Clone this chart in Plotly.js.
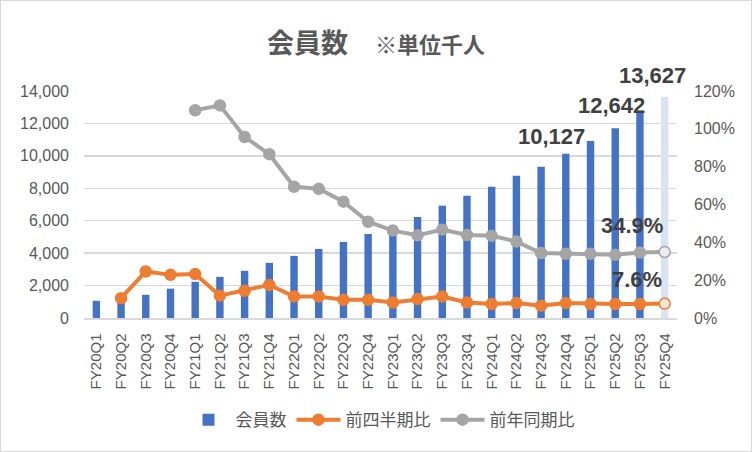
<!DOCTYPE html>
<html>
<head>
<meta charset="utf-8">
<script src="https://cdn.plot.ly/plotly-3.0.1.min.js"></script>
<style>
  html, body { margin: 0; padding: 0; background: #fff; }
  #frame { width: 750px; height: 450px; border: 1px solid #d9d9d9; }
  #chart { width: 750px; height: 450px; }
</style>
</head>
<body>
<div id="frame"><div id="chart"></div></div>
<script>
// ---- data ----
const quarters = ["FY20Q1","FY20Q2","FY20Q3","FY20Q4",
                  "FY21Q1","FY21Q2","FY21Q3","FY21Q4",
                  "FY22Q1","FY22Q2","FY22Q3","FY22Q4",
                  "FY23Q1","FY23Q2","FY23Q3","FY23Q4",
                  "FY24Q1","FY24Q2","FY24Q3","FY24Q4",
                  "FY25Q1","FY25Q2","FY25Q3","FY25Q4"];
const members = [1060, 1250, 1430, 1810,
                 2230, 2540, 2910, 3400,
                 3830, 4260, 4690, 5180,
                 5700, 6230, 6930, 7540,
                 8100, 8770, 9330, 10127,
                 10920, 11700, 12642, 13627];
const qoq = [null, 0.105, 0.246, 0.228,
             0.232, 0.118, 0.144, 0.175,
             0.114, 0.114, 0.096, 0.096,
             0.082, 0.100, 0.114, 0.082,
             0.074, 0.079, 0.065, 0.079,
             0.074, 0.074, 0.074, 0.076];
const yoy = [null, null, null, null,
             1.098, 1.124, 0.957, 0.866,
             0.694, 0.683, 0.615, 0.509,
             0.462, 0.437, 0.467, 0.439,
             0.435, 0.404, 0.343, 0.339,
             0.339, 0.334, 0.346, 0.349];
const seriesNames = ["会員数", "前四半期比", "前年同期比"];
const titleMain = "会員数";
const titleSub = "※単位千人";
const barLabelCats = ["FY24Q4", "FY25Q3", "FY25Q4"];

// ---- styling ----
const last = quarters.length - 1;
const blue = "#4472C4", blueLight = "#DAE3F3";
const orange = "#ED7D31", orangeLight = "#FBE5D6";
const gray = "#A5A5A5", grayLight = "#EDEDED";
const txt = "#595959", lbl = "#404040";

const barColors = quarters.map((q, i) => i === last ? blueLight : blue);
const oFill = quarters.map((q, i) => i === last ? orangeLight : orange);
const gFill = quarters.map((q, i) => i === last ? grayLight : gray);

const traces = [
  { type: "bar", name: seriesNames[0], x: quarters, y: members,
    marker: { color: barColors }, yaxis: "y" },
  { type: "scatter", mode: "lines+markers", name: seriesNames[1], x: quarters, y: qoq,
    yaxis: "y2", line: { color: orange, width: 4 },
    marker: { size: 11, color: oFill, line: { color: orange, width: 1.5 } } },
  { type: "scatter", mode: "lines+markers", name: seriesNames[2], x: quarters, y: yoy,
    yaxis: "y2", line: { color: gray, width: 4 },
    marker: { size: 11, color: gFill, line: { color: gray, width: 1.5 } } }
];

const labelFont = { size: 22, color: lbl, family: "Liberation Sans, Arial, sans-serif" };
const barShift = { "FY24Q4": [-14, 17], "FY25Q3": [-28, 8], "FY25Q4": [-12, 22] };
const annotations = barLabelCats.map(c => {
  const i = quarters.indexOf(c);
  return { x: c, y: members[i], xref: "x", yref: "y", showarrow: false,
           text: "<b>" + members[i].toLocaleString("en-US") + "</b>",
           font: labelFont, xanchor: "center", yanchor: "middle",
           xshift: barShift[c][0], yshift: barShift[c][1] };
});
annotations.push({ x: quarters[last], y: yoy[last], xref: "x", yref: "y2", showarrow: false,
  text: "<b>" + (yoy[last] * 100).toFixed(1) + "%</b>", font: labelFont,
  xanchor: "center", yanchor: "middle", xshift: -33, yshift: 26 });
annotations.push({ x: quarters[last], y: qoq[last], xref: "x", yref: "y2", showarrow: false,
  text: "<b>" + (qoq[last] * 100).toFixed(1) + "%</b>", font: labelFont,
  xanchor: "center", yanchor: "middle", xshift: -28, yshift: 24 });

const layout = {
  width: 750, height: 450,
  margin: { l: 83, r: 74, t: 90, b: 133, autoexpand: false },
  paper_bgcolor: "#fff", plot_bgcolor: "#fff",
  font: { family: "Liberation Sans, Noto Sans CJK JP, sans-serif", color: txt, size: 16 },
  title: { text: "<b>" + titleMain + "　<span style='font-size:22px'>" + titleSub + "</span></b>",
           font: { family: "Noto Sans CJK JP, sans-serif", size: 27, color: txt },
           x: 0.5, xanchor: "center", y: 0.905, yanchor: "middle" },
  bargap: 0.7,
  showlegend: true,
  legend: { orientation: "h", x: 0.5, xanchor: "center", y: -0.45, yanchor: "middle",
            font: { family: "Noto Sans CJK JP, sans-serif", size: 17, color: txt },
            traceorder: "normal", itemwidth: 44 },
  xaxis: { type: "category", range: [-0.5, quarters.length - 0.5], autorange: false,
           tickangle: -90, tickfont: { size: 15, color: txt },
           showline: true, linecolor: "#d9d9d9", linewidth: 1.5, ticks: "",
           ticklabelstandoff: 8, automargin: false, fixedrange: true },
  yaxis: { range: [0, 14000], dtick: 2000, tickformat: ",d", showgrid: true,
           gridcolor: "#d9d9d9", gridwidth: 1.5, zeroline: false, showline: false,
           ticks: "", ticklabelstandoff: 14, automargin: false, tickfont: { size: 16, color: txt } },
  yaxis2: { range: [0, 1.2], dtick: 0.2, tickformat: ".0%", overlaying: "y", side: "right",
            showgrid: false, zeroline: false, showline: false, ticks: "", automargin: false,
            ticklabelstandoff: 16, tickfont: { size: 16, color: txt } },
  annotations: annotations
};

Plotly.newPlot("chart", traces, layout, { displayModeBar: false, staticPlot: true });
</script>
</body>
</html>
